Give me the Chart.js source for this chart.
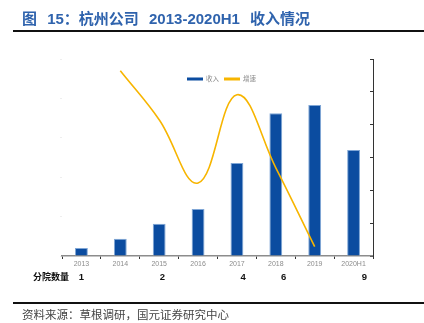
<!DOCTYPE html>
<html>
<head>
<meta charset="utf-8">
<script src="https://cdn.jsdelivr.net/npm/chart.js@4.4.1/dist/chart.umd.min.js"></script>
<style>
  body { margin: 0; background: #fff; }
  #wrap { position: relative; width: 424px; height: 323px; overflow: hidden; font-family: "Liberation Sans", "Noto Sans CJK SC", sans-serif; }
  #c { position: absolute; left: 0; top: 0; }
  .title { position: absolute; left: 22px; top: 10px; line-height: 18px; font-size: 15px; font-weight: bold; color: #2f63ad; white-space: nowrap; word-spacing: 6px; }
  .rule { position: absolute; left: 13px; right: 0; height: 2px; background: #111; }
  .src { position: absolute; left: 22px; top: 306px; line-height: 16px; font-size: 11.5px; color: #444; font-family: "Noto Sans CJK SC", sans-serif; white-space: nowrap; }
</style>
</head>
<body>
<div id="wrap">
  <canvas id="c" width="424" height="323"></canvas>
  <div class="title">图 15：杭州公司 2013-2020H1 收入情况</div>
  <div class="rule" style="top:30px"></div>
  <div class="rule" style="top:302px"></div>
  <div class="src">资料来源：草根调研，国元证券研究中心</div>
</div>
<script>
// categories and values
let years = ["2013","2014","2015","2016","2017","2018","2019","2020H1"];
let revenue = [2.0, 4.4, 8.2, 11.9, 23.6, 36.2, 38.3, 26.9];
let growth = [null, 112.8, 83, 44.5, 98.2, 53.7, 5.7, null];
let branchCounts = [1, null, 2, null, 4, 6, null, 9];
let branchLabel = "分院数量";

// small legend drawn inside the plot, plus the branch-count row under the axis
let extras = {
  id: 'extras',
  afterDraw(chart) {
    let ctx = chart.ctx;
    let area = chart.chartArea;
    let xs = chart.scales.x;
    ctx.save();
    // legend: bars first, then the line
    let lx = area.left + 125, ly = 79;
    ctx.font = '6.5px "Noto Sans CJK SC"';
    ctx.textBaseline = 'middle';
    [1, 0].forEach(i => {
      let ds = chart.data.datasets[i];
      ctx.fillStyle = ds.type === 'line' ? ds.borderColor : ds.backgroundColor;
      ctx.fillRect(lx, ly - 1.5, 16, 3);
      ctx.fillStyle = '#8a8a8a';
      ctx.fillText(ds.label, lx + 19, ly);
      lx += 37;
    });
    // branch row
    ctx.fillStyle = '#111';
    ctx.font = 'bold 9px "Noto Sans CJK SC"';
    ctx.textAlign = 'left';
    ctx.fillText(branchLabel, 33, 277);
    ctx.font = 'bold 9.5px "Liberation Sans"';
    ctx.textAlign = 'center';
    let x0 = xs.getPixelForValue(0);
    branchCounts.forEach((n, i) => {
      if (n === null) return;
      let px = xs.getPixelForValue(i);
      ctx.fillText(String(n), x0 + (px - x0) * 1.04, 277);
    });
    ctx.restore();
  }
};

new Chart(document.getElementById('c'), {
  data: {
    labels: years,
    datasets: [
      {
        type: 'line',
        label: '增速',
        data: growth,
        yAxisID: 'y1',
        borderColor: '#f7b500',
        backgroundColor: '#f7b500',
        borderWidth: 1.6,
        pointRadius: 0,
        tension: 0.4,
        order: 0
      },
      {
        type: 'bar',
        label: '收入',
        data: revenue,
        yAxisID: 'y',
        backgroundColor: '#0b4ca0',
        borderColor: '#7fa6d6',
        borderWidth: 1,
        barPercentage: 0.33,
        categoryPercentage: 1,
        order: 1
      }
    ]
  },
  options: {
    responsive: false,
    animation: false,
    layout: { padding: { left: 62, right: 51, top: 59, bottom: 53 } },
    plugins: { legend: { display: false }, tooltip: { enabled: false } },
    scales: {
      x: {
        afterFit: s => { s.height = 14; },
        border: { color: '#8c8c8c', width: 1.5 },
        grid: { drawOnChartArea: false, tickLength: 3, color: '#333' },
        ticks: { color: '#8c8c8c', font: { size: 7, family: 'Liberation Sans' }, padding: 1, maxRotation: 0 }
      },
      y: {
        position: 'left',
        min: 0, max: 50,
        afterFit: s => { s.width = 0; },
        border: { display: false },
        grid: { drawOnChartArea: false, tickLength: 2, color: '#eeeeee' },
        ticks: { display: false, stepSize: 10 }
      },
      y1: {
        position: 'right',
        min: 0, max: 120,
        afterFit: s => { s.width = 0; },
        border: { color: '#333', width: 1 },
        grid: { drawOnChartArea: false, tickLength: -3, color: '#333' },
        ticks: { display: false, stepSize: 20 }
      }
    }
  },
  plugins: [extras]
});
</script>
</body>
</html>
